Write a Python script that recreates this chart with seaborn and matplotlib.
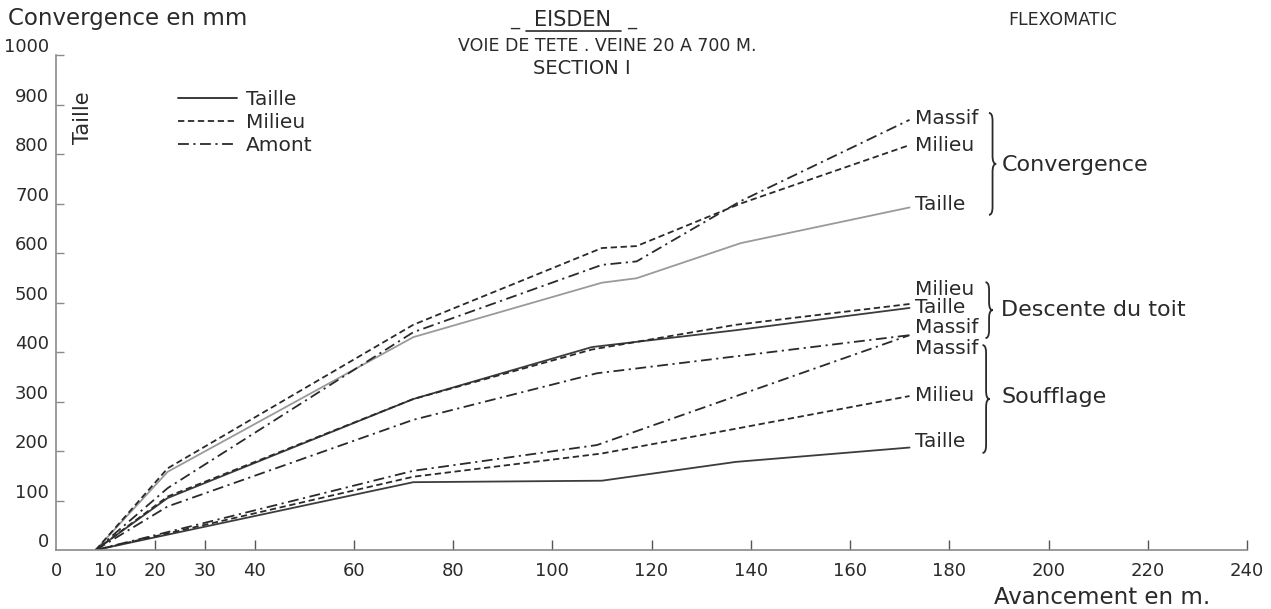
import matplotlib
matplotlib.use("Agg")
import matplotlib.pyplot as plt
import seaborn as sns
import pandas as pd
from matplotlib.path import Path
from matplotlib.patches import PathPatch
from matplotlib.lines import Line2D
from matplotlib.transforms import ScaledTranslation

# ---- Convergence (mm) vs avancement (m)
conv_x = [8, 22.5, 72, 110, 117, 138, 172]
conv_taille = [0, 158, 430, 540, 549, 620, 692]
conv_milieu = [0, 165, 455, 610, 614, 700, 818]
conv_massif = [0, 125, 440, 576, 583, 705, 869]

# ---- Descente du toit
desc_x = [8, 22.5, 72, 108, 137, 172]
desc_taille = [0, 105, 305, 410, 444, 489]
desc_milieu = [0, 108, 305, 405, 455, 497]
desc_massif_x = [8, 22.5, 72, 109, 172]
desc_massif = [0, 88, 263, 357, 434]

# ---- Soufflage
souf_x = [8, 72, 110, 137, 172]
souf_taille = [0, 137, 140, 178, 207]
souf_milieu = [0, 148, 195, 245, 311]
souf_massif_x = [8, 72, 109, 172]
souf_massif = [0, 160, 212, 434]

x_ticks = [0, 10, 20, 30, 40, 60, 80, 100, 120, 140, 160, 180, 200, 220, 240]
y_ticks = [0, 100, 200, 300, 400, 500, 600, 700, 800, 900, 1000]

# end-of-curve labels: (text, y position)
end_labels = [
    ("Massif", 871), ("Milieu", 818), ("Taille", 697),
    ("Milieu", 527), ("Taille", 489), ("Massif", 450),
    ("Massif", 408), ("Milieu", 313), ("Taille", 220),
]
# group name, text y, brace top, brace bottom, brace x
groups = [
    ("Convergence", 778, 883, 677, 188.0),
    ("Descente du toit", 485, 541, 428, 187.3),
    ("Soufflage", 309, 414, 196, 186.7),
]

sns.set_style("white")
plt.rcParams["font.family"] = ["DejaVu Sans"]
INK = "#2a2a2a"
FS = 14.5

fig = plt.figure(figsize=(12.71, 6.09), dpi=100)
ax = fig.add_axes([56 / 1271, 59 / 609, (1247 - 56) / 1271, (550 - 55) / 609])

SOLID = "-"
DASH = (0, (3.5, 2.0))
DASHDOT = (0, (6, 2.5, 1.2, 2.5))

series = [
    (conv_x, conv_taille, SOLID, "#9a9a9a"),
    (conv_x, conv_milieu, DASH, INK),
    (conv_x, conv_massif, DASHDOT, INK),
    (desc_x, desc_taille, SOLID, "#3c3c3c"),
    (desc_x, desc_milieu, DASH, INK),
    (desc_massif_x, desc_massif, DASHDOT, INK),
    (souf_x, souf_taille, SOLID, "#3c3c3c"),
    (souf_x, souf_milieu, DASH, INK),
    (souf_massif_x, souf_massif, DASHDOT, INK),
]
for xs, ys, ls, col in series:
    df = pd.DataFrame({"x": xs, "y": ys})
    sns.lineplot(data=df, x="x", y="y", ax=ax, color=col, linewidth=1.3,
                 linestyle=ls, sort=False, estimator=None)

ax.set_xlim(0, 240)
ax.set_ylim(0, 1000)
ax.set_xlabel("")
ax.set_ylabel("")

for s in ["top", "right"]:
    ax.spines[s].set_visible(False)
for s in ["left", "bottom"]:
    ax.spines[s].set_color("#8a8a8a")
    ax.spines[s].set_linewidth(1.2)

ax.set_xticks(x_ticks)
ax.set_xticklabels([str(v) for v in x_ticks])
ax.set_yticks(y_ticks)
ax.set_yticklabels([str(v) for v in y_ticks])
ax.tick_params(axis="x", bottom=True, direction="in", length=7, width=1.0,
               color="#555555", labelsize=13, labelcolor=INK, pad=9)
ax.tick_params(axis="y", left=True, direction="in", length=6, width=1.0,
               color="#8a8a8a", labelsize=13, labelcolor=INK, pad=5)
xt = ax.xaxis.get_major_ticks()
xt[0].tick1line.set_visible(False)
xt[1].tick1line.set_visible(False)
ax.yaxis.get_major_ticks()[0].tick1line.set_visible(False)
for lab in ax.get_yticklabels():
    lab.set_transform(lab.get_transform() + ScaledTranslation(0, 7 / 72, fig.dpi_scale_trans))

# labels at the end of each curve
for txt, yv in end_labels:
    ax.text(173, yv, txt, fontsize=FS, color=INK, va="center", ha="left")


def brace(x0, ytop, ybot, w=1.45, r=16):
    ymid = (ytop + ybot) / 2
    xm = x0 + w / 2
    verts = [(x0, ytop), (xm, ytop), (xm, ytop - r),
             (xm, ymid + r), (xm, ymid), (x0 + w, ymid),
             (xm, ymid), (xm, ymid - r),
             (xm, ybot + r), (xm, ybot), (x0, ybot)]
    codes = [Path.MOVETO, Path.CURVE3, Path.CURVE3,
             Path.LINETO, Path.CURVE3, Path.CURVE3,
             Path.CURVE3, Path.CURVE3,
             Path.LINETO, Path.CURVE3, Path.CURVE3]
    ax.add_patch(PathPatch(Path(verts, codes), fill=False, lw=1.3,
                           edgecolor=INK, clip_on=False))


for name, yv, ytop, ybot, bx in groups:
    brace(bx, ytop, ybot)
    ax.text(190.5, yv, name, fontsize=16, color=INK, va="center", ha="left")

# legend
handles = [Line2D([], [], color=INK, lw=1.3, linestyle=SOLID),
           Line2D([], [], color=INK, lw=1.3, linestyle=DASH),
           Line2D([], [], color=INK, lw=1.3, linestyle=DASHDOT)]
leg = ax.legend(handles, ["Taille", "Milieu", "Amont"], loc="upper left",
                bbox_to_anchor=(168 / 1271, 1 - 80 / 609), bbox_transform=fig.transFigure,
                frameon=False, fontsize=FS, handlelength=2.95, handletextpad=0.4,
                labelspacing=0.2, borderpad=0)
for t in leg.get_texts():
    t.set_color(INK)

# headings
fig.text(8 / 1271, 1 - 18 / 609, "Convergence en mm", fontsize=16.5, color=INK,
         va="center", ha="left")
fig.text(83 / 1271, 1 - 118 / 609, "Taille", fontsize=15, color=INK,
         rotation=90, va="center", ha="center")
fig.text(573 / 1271, 1 - 20 / 609, "EISDEN", fontsize=15, color=INK,
         va="center", ha="center")
fig.text(515 / 1271, 1 - 20 / 609, "_", fontsize=13, color=INK,
         va="center", ha="center")
fig.text(632 / 1271, 1 - 20 / 609, "_", fontsize=13, color=INK,
         va="center", ha="center")
fig.add_artist(Line2D([526 / 1271, 621 / 1271], [1 - 31 / 609, 1 - 31 / 609],
                      transform=fig.transFigure, color=INK, lw=1.2))
fig.text(607 / 1271, 1 - 46 / 609, "VOIE DE TETE . VEINE 20 A 700 M.", fontsize=12.5,
         color=INK, va="center", ha="center")
fig.text(582 / 1271, 1 - 68 / 609, "SECTION I", fontsize=14, color=INK,
         va="center", ha="center")
fig.text(1008 / 1271, 1 - 20 / 609, "FLEXOMATIC", fontsize=12.5, color=INK,
         va="center", ha="left")
fig.text(1210 / 1271, 1 - 597 / 609, "Avancement en m.", fontsize=16.5, color=INK,
         va="center", ha="right")

fig.savefig("out.png", dpi=100, facecolor="white")
